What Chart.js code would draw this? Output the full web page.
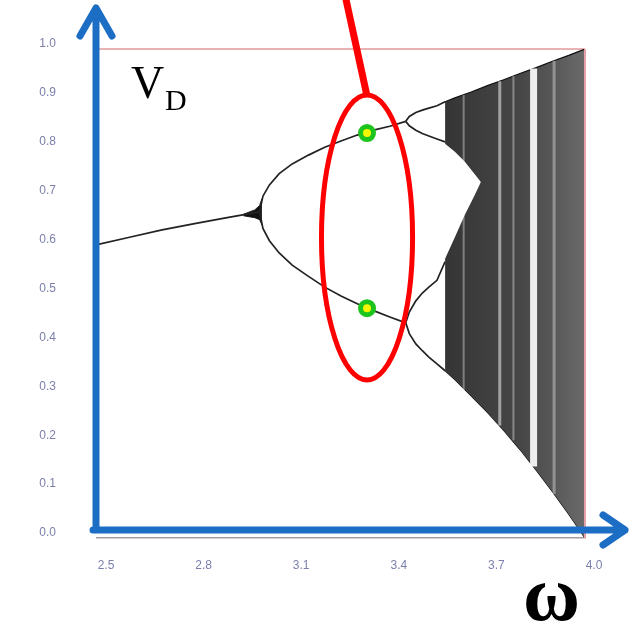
<!DOCTYPE html>
<html>
<head>
<meta charset="utf-8">
<script src="https://cdn.jsdelivr.net/npm/chart.js@4.4.1/dist/chart.umd.min.js"></script>
<style>
  html, body { margin: 0; padding: 0; background: #fff; }
  #wrap { position: relative; width: 630px; height: 623px; overflow: hidden; }
  .lbl { position: absolute; font-family: 'Liberation Serif', serif; line-height: 1; color: #000; white-space: nowrap; }
</style>
</head>
<body>
<div id="wrap">
  <canvas id="bif"></canvas>
  <span class="lbl" style="left:131px; top:60px; font-size:46px;">V</span>
  <span class="lbl" style="left:165px; top:85px; font-size:30px;">D</span>
  <span class="lbl" style="left:523px; top:555px; font-size:78px; font-weight:bold;">ω</span>
</div>
<script>
// bifurcation diagram, values

// stable fixed point (period 1)
const p1R = [2.5, 2.6, 2.7, 2.8, 2.9, 3.0];
const p1V = [0.600, 0.615, 0.630, 0.643, 0.655, 0.667];

// period 2 branches
const p2R     = [3.0, 3.01, 3.03, 3.06, 3.1, 3.15, 3.2, 3.25, 3.3, 3.35, 3.4, 3.449];
const p2Upper = [0.667, 0.699, 0.722, 0.745, 0.765, 0.783, 0.799, 0.812, 0.824, 0.834, 0.842, 0.852];
const p2Lower = [0.667, 0.633, 0.608, 0.583, 0.558, 0.535, 0.513, 0.495, 0.479, 0.465, 0.452, 0.440];

// dark knot where the first fork happens
const knotR      = [2.95, 2.985, 3.0, 3.007];
const knotTop    = [0.662, 0.671, 0.680, 0.694];
const knotBottom = [0.659, 0.655, 0.651, 0.640];

// period 4 branches, up to the start of chaos
const p4R = [3.449, 3.46, 3.48, 3.5, 3.52, 3.545, 3.57];
const p4A = [0.852, 0.862, 0.870, 0.875, 0.879, 0.884, 0.892];
const p4B = [0.852, 0.843, 0.834, 0.827, 0.822, 0.816, 0.810];
const p4C = [0.440, 0.462, 0.485, 0.501, 0.513, 0.527, 0.565];
const p4D = [0.440, 0.418, 0.397, 0.383, 0.370, 0.356, 0.342];

// chaotic region envelope
const chaosR      = [3.57, 3.6, 3.65, 3.7, 3.75, 3.8, 3.85, 3.9, 3.95, 4.0];
const chaosTop    = [0.892, 0.900, 0.912, 0.925, 0.937, 0.950, 0.962, 0.975, 0.987, 1.0];
const chaosBottom = [0.342, 0.324, 0.291, 0.257, 0.220, 0.181, 0.139, 0.095, 0.049, 0.0];

// white gap between the two chaotic bands
const gapR     = [3.567, 3.6, 3.63, 3.66, 3.68];
const gapUpper = [0.808, 0.790, 0.770, 0.745, 0.728];
const gapLower = [0.567, 0.615, 0.660, 0.700, 0.728];

// periodic windows (light stripes)
const windowR      = [3.627, 3.738, 3.78, 3.842, 3.905];
const windowTop    = [0.906, 0.934, 0.945, 0.960, 0.976];
const windowBottom = [0.300, 0.230, 0.200, 0.146, 0.090];

// highlighted period-2 points
const markR = [3.33, 3.33];
const markV = [0.828, 0.470];

const xTicks = [2.5, 2.8, 3.1, 3.4, 3.7, 4.0];

// circled zone (data units)
const zoneR = [3.19, 3.47];
const zoneV = [0.323, 0.906];

const pts = (xs, ys) => xs.map((x, i) => ({x: x, y: ys[i]}));

const BLUE = '#1b6ec4';

function line(xs, ys, extra) {
    return Object.assign({
        data: pts(xs, ys),
        showLine: true,
        pointRadius: 0,
        borderColor: '#222',
        borderWidth: 1.7,
        fill: false
    }, extra || {});
}

const stripeW = [2, 3, 2, 7, 3];
const stripeA = [0.35, 0.5, 0.35, 0.9, 0.35];

const datasets = [];
datasets.push({
    data: pts(markR, markV),
    pointRadius: 6.5,
    pointBorderWidth: 5,
    pointBorderColor: '#1ec41e',
    pointBackgroundColor: '#f6f600'
});
windowR.forEach((r, i) => {
    datasets.push(line([r, r], [windowTop[i], windowBottom[i]], {
        borderColor: 'rgba(255,255,255,' + stripeA[i] + ')',
        borderWidth: stripeW[i]
    }));
});
datasets.push(line(gapR, gapUpper, {borderColor: '#fff', borderWidth: 0, fill: '+1', backgroundColor: '#fff'}));
datasets.push(line(gapR, gapLower, {borderColor: '#fff', borderWidth: 0}));
datasets.push(line(chaosR, chaosTop, {
    borderColor: '#111', borderWidth: 1.2, fill: '+1',
    backgroundColor: (ctx) => {
        const chart = ctx.chart;
        if (!chart.chartArea) return '#444';
        const xs = chart.scales.x;
        const g = chart.ctx.createLinearGradient(xs.getPixelForValue(3.57), 0, xs.getPixelForValue(4.0), 0);
        g.addColorStop(0, '#353535');
        g.addColorStop(0.55, '#474747');
        g.addColorStop(1, '#6a6a6a');
        return g;
    }
}));
datasets.push(line(chaosR, chaosBottom, {borderColor: '#111', borderWidth: 1.2}));
datasets.push(line(p1R, p1V));
datasets.push(line(p2R, p2Upper));
datasets.push(line(p2R, p2Lower));
datasets.push(line(p4R, p4A));
datasets.push(line(p4R, p4B));
datasets.push(line(p4R, p4C));
datasets.push(line(p4R, p4D));
datasets.push(line(knotR, knotTop, {borderWidth: 1, fill: '+1', backgroundColor: '#111'}));
datasets.push(line(knotR, knotBottom, {borderWidth: 1}));

// red frame on top/right, red highlight, blue axis arrows
const overlay = {
    id: 'overlay',
    beforeDatasetsDraw(chart) {
        const c = chart.ctx, a = chart.chartArea;
        c.save();
        c.strokeStyle = '#e39a9a';
        c.lineWidth = 1.5;
        c.beginPath();
        c.moveTo(a.left, a.top);
        c.lineTo(a.right, a.top);
        c.stroke();
        c.restore();
    },
    afterDatasetsDraw(chart) {
        const c = chart.ctx, a = chart.chartArea;
        const xs = chart.scales.x, ys = chart.scales.y;
        c.save();
        c.strokeStyle = '#e8a0a8';
        c.lineWidth = 2;
        c.beginPath();
        c.moveTo(a.right, a.top);
        c.lineTo(a.right, a.bottom);
        c.stroke();

        // ellipse around the period-2 pair
        const x0 = xs.getPixelForValue(zoneR[0]), x1 = xs.getPixelForValue(zoneR[1]);
        const y0 = ys.getPixelForValue(zoneV[1]), y1 = ys.getPixelForValue(zoneV[0]);
        const cx = (x0 + x1) / 2, cy = (y0 + y1) / 2;
        c.strokeStyle = '#ff0000';
        c.lineWidth = 5;
        c.beginPath();
        c.ellipse(cx, cy, (x1 - x0) / 2, (y1 - y0) / 2, 0, 0, Math.PI * 2);
        c.stroke();
        c.lineWidth = 7;
        c.beginPath();
        c.moveTo(cx, y0 + 1);
        c.lineTo(cx - 22, -5);
        c.stroke();

        // blue axes
        const ax = a.left - 1, ay = a.bottom - 8;
        c.strokeStyle = BLUE;
        c.lineWidth = 7;
        c.lineCap = 'round';
        c.lineJoin = 'round';
        c.beginPath();
        c.moveTo(ax, ay);
        c.lineTo(ax, 8);
        c.moveTo(ax - 16, 36);
        c.lineTo(ax, 8);
        c.lineTo(ax + 16, 36);
        c.moveTo(ax - 3, ay);
        c.lineTo(625, ay);
        c.moveTo(603, ay - 15);
        c.lineTo(625, ay);
        c.lineTo(603, ay + 15);
        c.stroke();
        c.restore();
    }
};

new Chart(document.getElementById('bif'), {
    type: 'scatter',
    data: {datasets: datasets},
    options: {
        responsive: true,
        maintainAspectRatio: false,
        animation: false,
        layout: {padding: {left: 0, top: 49, right: 45, bottom: 45}},
        plugins: {legend: {display: false}, tooltip: {enabled: false}},
        scales: {
            x: {
                type: 'linear',
                min: 2.5,
                max: 4.0,
                afterBuildTicks: (scale) => { scale.ticks = xTicks.map(v => ({value: v})); },
                afterFit: (scale) => { scale.height = 40; },
                grid: {display: false, drawTicks: false},
                border: {display: true, color: '#a89c9c', width: 1.5},
                ticks: {
                    padding: 20,
                    labelOffset: 9,
                    color: '#7b7fab',
                    font: {family: 'Liberation Sans', size: 12},
                    callback: (v) => Number(v).toFixed(1)
                }
            },
            y: {
                min: 0,
                max: 1,
                afterFit: (scale) => { scale.width = 97; },
                grid: {display: false, drawTicks: false},
                border: {display: false},
                ticks: {
                    stepSize: 0.1,
                    padding: 41,
                    labelOffset: -5,
                    color: '#7b7fab',
                    font: {family: 'Liberation Sans', size: 12},
                    callback: (v) => Number(v).toFixed(1)
                }
            }
        }
    },
    plugins: [overlay]
});
</script>
</body>
</html>
